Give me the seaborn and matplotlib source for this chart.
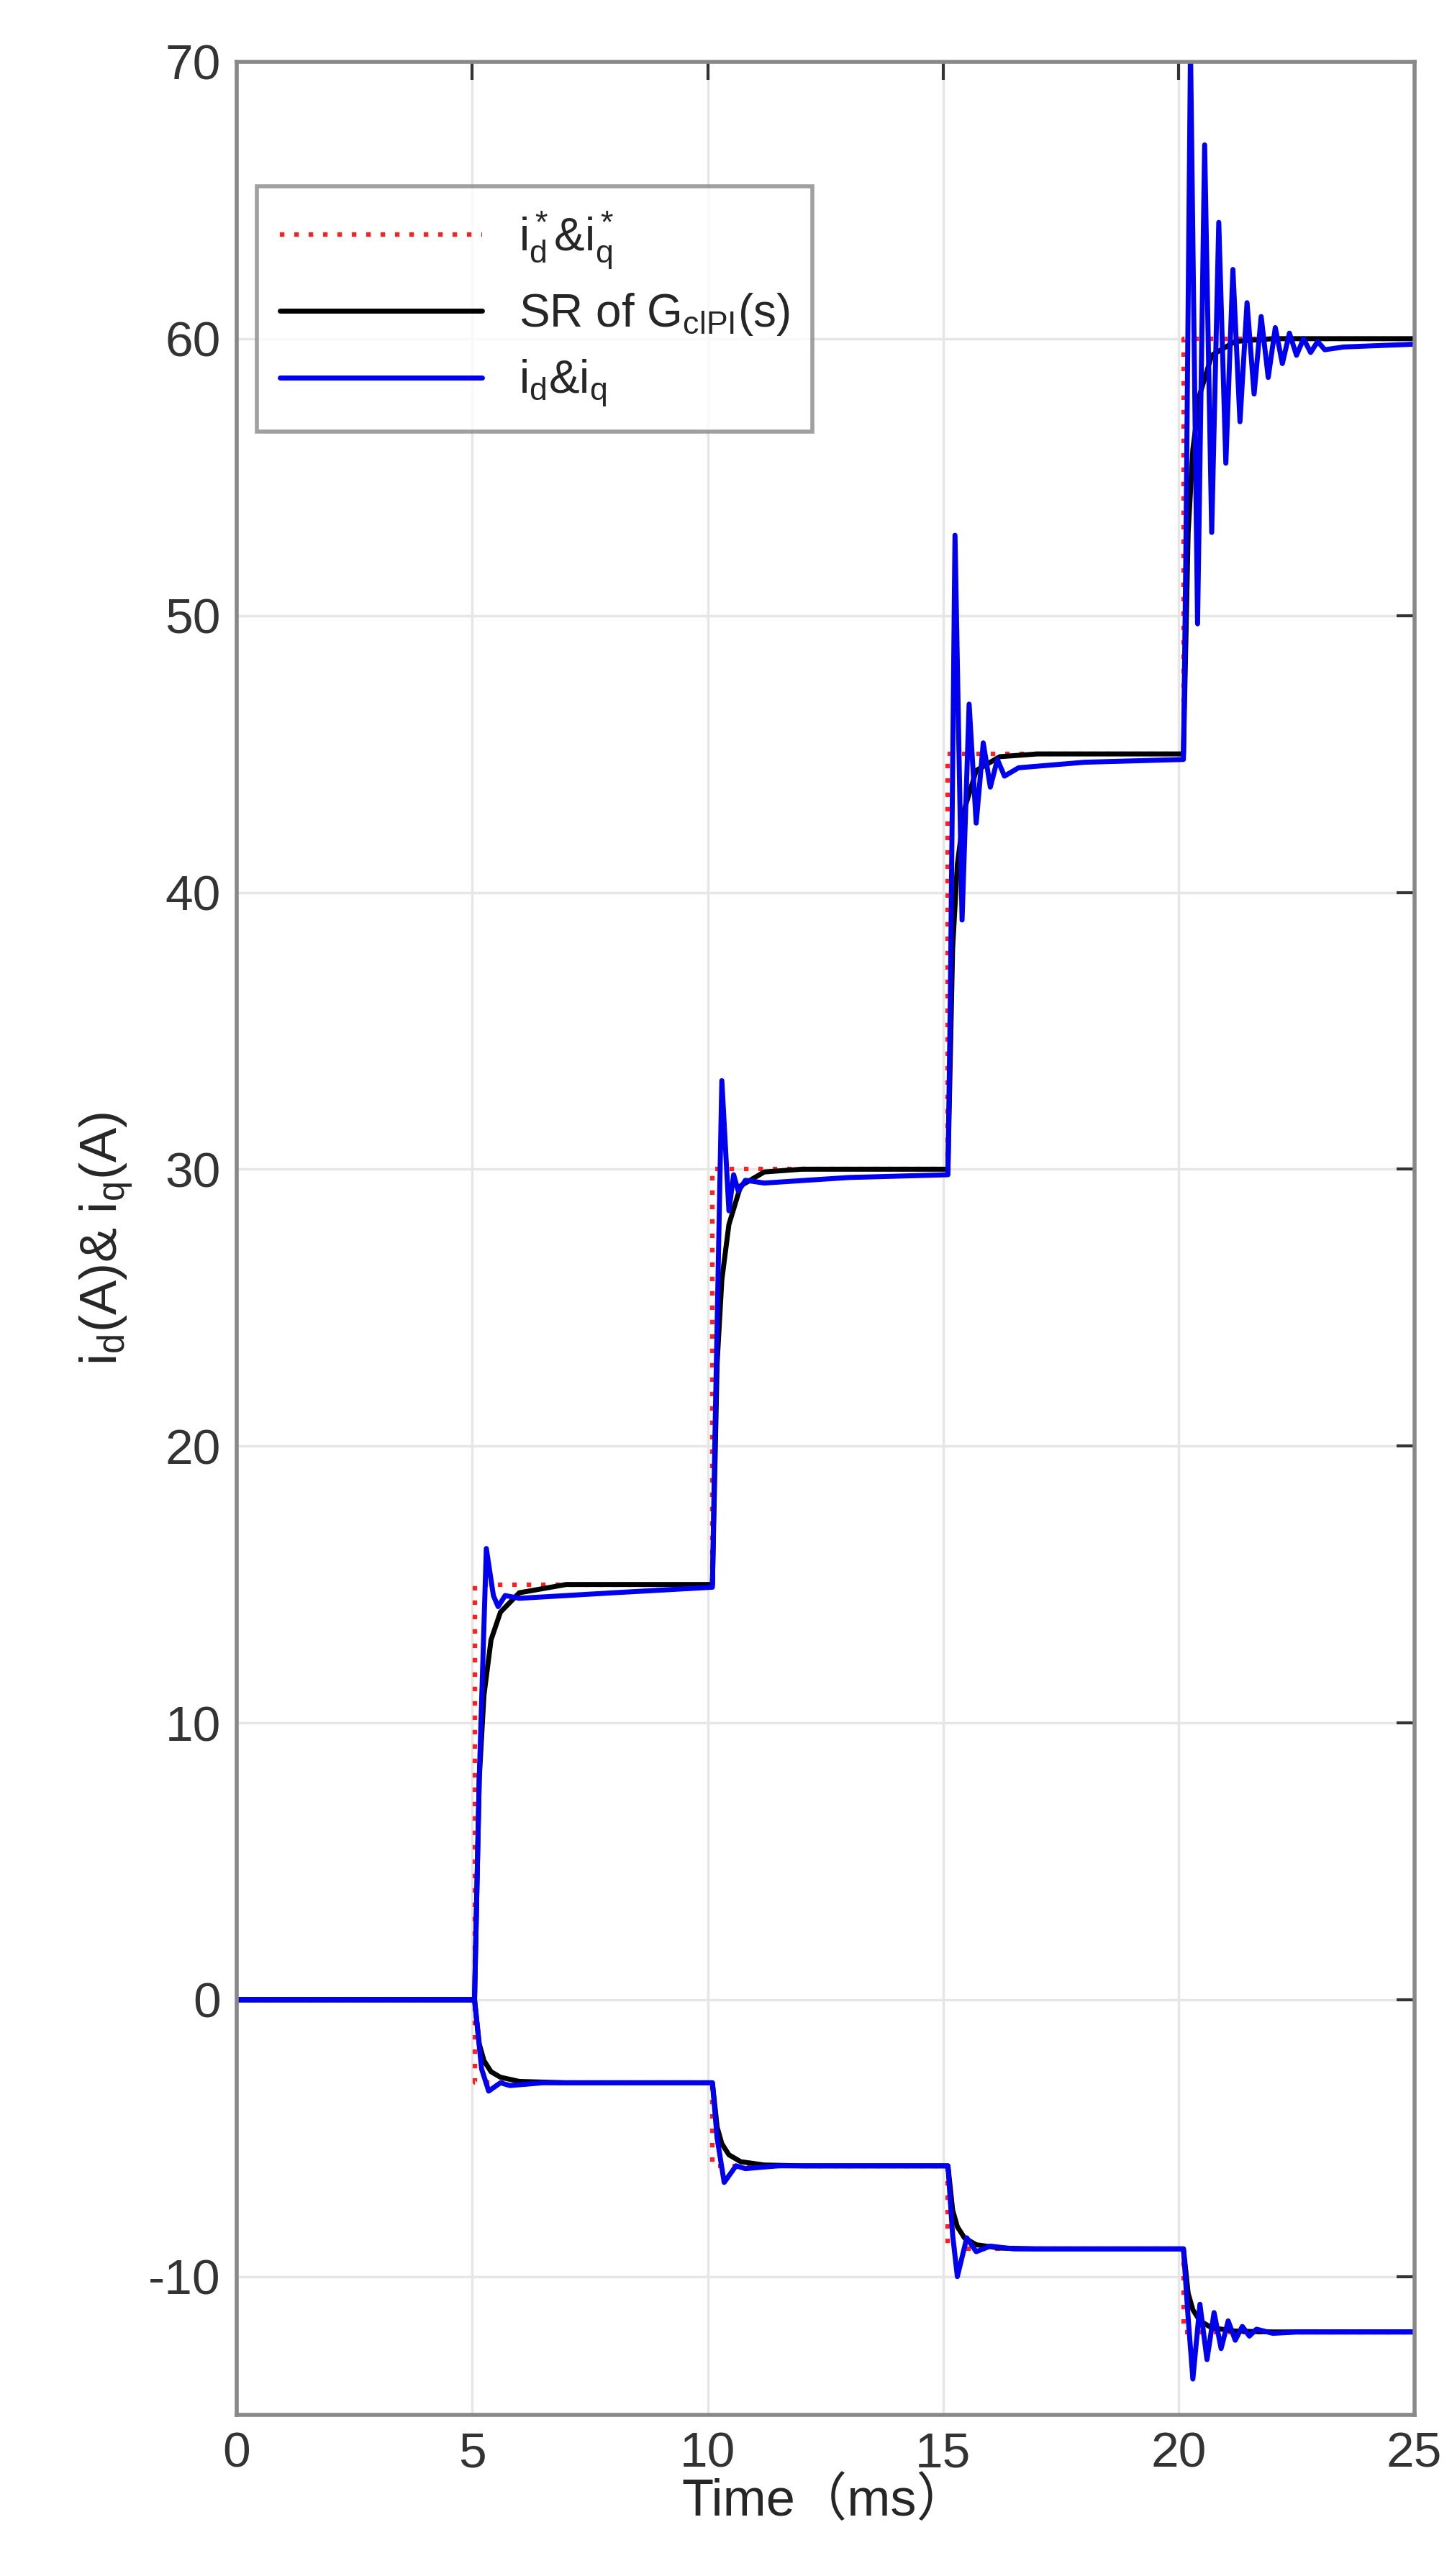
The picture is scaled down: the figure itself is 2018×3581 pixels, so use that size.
import numpy as np
import matplotlib
matplotlib.use("Agg")
import matplotlib.pyplot as plt
import seaborn as sns

sns.set_style("white")
plt.rcParams["font.family"] = ["Liberation Sans", "Noto Sans CJK SC", "DejaVu Sans"]
plt.rcParams["mathtext.fontset"] = "custom"
plt.rcParams["mathtext.rm"] = "Liberation Sans"
plt.rcParams["mathtext.it"] = "Liberation Sans"
plt.rcParams["axes.unicode_minus"] = False

# === Data ===
# reference steps (red dotted)
ref_t = [0, 5.05, 5.05, 10.1, 10.1, 15.1, 15.1, 20.1, 20.1, 25]
ref_iq = [0, 0, 15, 15, 30, 30, 45, 45, 60, 60]
ref_id = [0, 0, -3, -3, -6, -6, -9, -9, -12, -12]

# step response of closed loop PI (black)
sr_t = [0, 5.05, 5.1, 5.15, 5.25, 5.4, 5.6, 6.0, 7.0,
        10.1, 10.15, 10.2, 10.3, 10.45, 10.7, 11.2, 12.0,
        15.1, 15.15, 15.2, 15.3, 15.45, 15.7, 16.2, 17.0,
        20.1, 20.15, 20.2, 20.3, 20.45, 20.7, 21.2, 22.0, 25]
sr_iq = [0, 0, 4, 8, 11, 13, 14, 14.7, 15,
         15, 19, 23, 26, 28, 29.4, 29.9, 30,
         30, 34, 38, 41, 43, 44.4, 44.9, 45,
         45, 49, 53, 56, 58, 59.4, 59.9, 60, 60]
sr_id = [0, 0, -0.8, -1.6, -2.2, -2.6, -2.8, -2.95, -3,
         -3, -3.8, -4.6, -5.2, -5.6, -5.85, -5.97, -6,
         -6, -6.8, -7.6, -8.2, -8.6, -8.85, -8.97, -9,
         -9, -9.8, -10.6, -11.2, -11.6, -11.85, -11.97, -12, -12]

# measured currents (blue)
iq_t = [0, 5.05, 5.15, 5.3, 5.45, 5.55, 5.7, 6.0, 8.0, 10.1,
        10.15, 10.3, 10.45, 10.55, 10.65, 10.8, 11.2, 13.0, 15.1,
        15.15, 15.25, 15.4, 15.55, 15.7, 15.85, 16.0, 16.15, 16.3, 16.6, 18.0, 20.1,
        20.15, 20.25, 20.4, 20.55, 20.7, 20.85, 21.0, 21.15, 21.3, 21.45, 21.6,
        21.75, 21.9, 22.05, 22.2, 22.35, 22.5, 22.65, 22.8, 22.95, 23.1, 23.5, 25]
iq_val = [0, 0, 8, 16.3, 14.6, 14.2, 14.6, 14.5, 14.7, 14.9,
          20, 33.2, 28.5, 29.8, 29.2, 29.6, 29.5, 29.7, 29.8,
          36, 52.9, 39.0, 46.8, 42.5, 45.4, 43.8, 44.8, 44.2, 44.5, 44.7, 44.8,
          52, 70.5, 49.7, 67.0, 53.0, 64.2, 55.5, 62.5, 57.0, 61.3, 58.0,
          60.8, 58.6, 60.4, 59.1, 60.2, 59.4, 60.0, 59.5, 59.9, 59.6, 59.7, 59.8]
id_t = [0, 5.05, 5.2, 5.35, 5.6, 5.8, 6.5, 10.1,
        10.2, 10.35, 10.6, 10.8, 11.5, 15.1,
        15.2, 15.3, 15.5, 15.7, 16.0, 16.5, 20.1,
        20.2, 20.3, 20.45, 20.6, 20.75, 20.9, 21.05, 21.2, 21.35, 21.5, 21.65, 22.0, 22.5, 25]
id_val = [0, 0, -2.5, -3.3, -3.0, -3.1, -3.0, -3.0,
          -5.0, -6.6, -6.0, -6.1, -6.0, -6.0,
          -8.5, -10.0, -8.6, -9.1, -8.9, -9.0, -9.0,
          -11.5, -13.7, -11.0, -13.0, -11.3, -12.6, -11.6, -12.3, -11.8, -12.15, -11.9, -12.05, -12.0, -12.0]

xticks = [0, 5, 10, 15, 20, 25]
yticks = [-10, 0, 10, 20, 30, 40, 50, 60, 70]

# === Figure ===
fig = plt.figure(figsize=(20.18, 35.81), dpi=100)
ax = fig.add_axes([0.163, 0.0625, 0.811, 0.9135])

sns.lineplot(x=ref_t, y=ref_iq, ax=ax, color="#ff2020", linestyle=(0, (1, 2.2)), lw=4.5,
             estimator=None, sort=False, label="i$^*_\\mathrm{d}$&i$^*_\\mathrm{q}$")
sns.lineplot(x=ref_t, y=ref_id, ax=ax, color="#ff2020", linestyle=(0, (1, 2.2)), lw=4.5,
             estimator=None, sort=False)
sns.lineplot(x=sr_t, y=sr_iq, ax=ax, color="black", lw=5, estimator=None, sort=False,
             label="SR of G$_\\mathrm{clPI}$(s)")
sns.lineplot(x=sr_t, y=sr_id, ax=ax, color="black", lw=5, estimator=None, sort=False)
sns.lineplot(x=iq_t, y=iq_val, ax=ax, color="#0000ee", lw=5, estimator=None, sort=False,
             label="i$_\\mathrm{d}$&i$_\\mathrm{q}$")
sns.lineplot(x=id_t, y=id_val, ax=ax, color="#0000ee", lw=5, estimator=None, sort=False)

ax.set_xlim(0, 25)
ax.set_ylim(-15, 70)
ax.set_xticks(xticks)
ax.set_yticks(yticks)
ax.tick_params(labelsize=50, colors="#333333", direction="in", length=18, width=3,
               top=True, right=True, pad=16)
ax.grid(True, color="#e6e6e6", lw=2.5)
for s in ax.spines.values():
    s.set_color("#888888")
    s.set_linewidth(4)

ax.set_xlabel("Time（ms）", fontsize=52, labelpad=0)
ax.set_ylabel("i$_\\mathrm{d}$(A)& i$_\\mathrm{q}$(A)", fontsize=52, labelpad=14)

leg = ax.legend(loc="upper left", bbox_to_anchor=(0.017, 0.947), fontsize=46,
                handlelength=4.4, frameon=True, fancybox=False, borderpad=0.5,
                labelspacing=0.45, borderaxespad=0)
leg.get_frame().set_edgecolor("#888888")
leg.get_frame().set_linewidth(4)

fig.savefig("out.png", dpi=100)
